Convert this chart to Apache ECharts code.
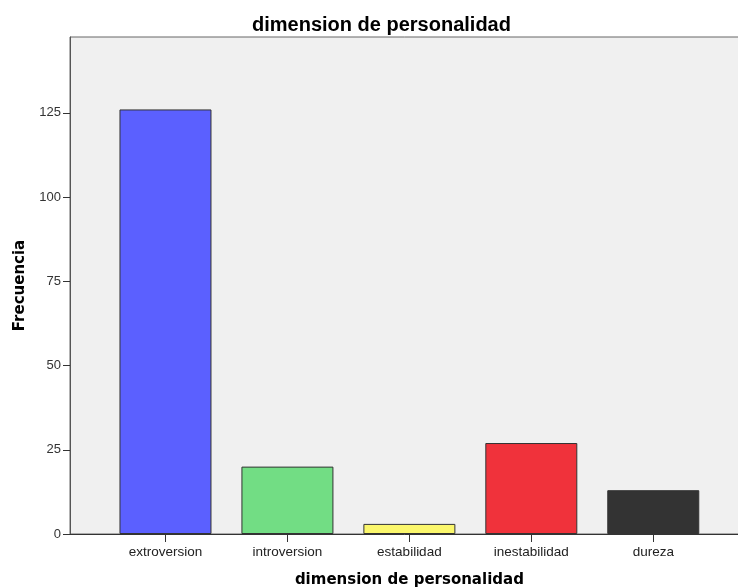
<!DOCTYPE html>
<html>
<head>
<meta charset="utf-8">
<script src="https://cdn.jsdelivr.net/npm/echarts@6/dist/echarts.min.js"></script>
<style>
html,body{margin:0;padding:0;background:#fff;}
#c{width:738px;height:588px;}
</style>
</head>
<body>
<div id="c"></div>
<script>
const categories = ['extroversion', 'introversion', 'estabilidad', 'inestabilidad', 'dureza'];
const values = [126, 20, 3, 27, 13];
const barColors = ['#5b60ff', '#72dd84', '#fbf76c', '#f0323b', '#333333'];
const yTicks = [0, 25, 50, 75, 100, 125];
const yMax = 147.5;

const chart = echarts.init(document.getElementById('c'));
chart.setOption({
  animation: false,
  title: {
    text: 'dimension de personalidad',
    left: 247,
    top: 10,
    textStyle: { fontFamily: 'Liberation Sans', fontSize: 20, fontWeight: 'bold', color: '#000' }
  },
  grid: [
    { left: 70, top: 37, width: 720, bottom: 54, outerBoundsMode: 'none', containLabel: false,
      show: true, backgroundColor: '#f0f0f0', borderColor: '#666', borderWidth: 1 },
    { left: 104.5, top: 37, width: 609.75, bottom: 54, outerBoundsMode: 'none', containLabel: false }
  ],
  xAxis: [
    { type: 'value', gridIndex: 0, min: 0, max: 1,
      axisLine: { show: true, lineStyle: { color: '#333', width: 1 } },
      axisTick: { show: false }, axisLabel: { show: false }, splitLine: { show: false } },
    { type: 'category', gridIndex: 1, data: categories,
      name: 'dimension de personalidad', nameLocation: 'middle', nameGap: 39,
      nameTextStyle: { fontFamily: 'DejaVu Sans', fontWeight: 'bold', fontSize: 15, color: '#000' },
      axisLine: { show: false },
      axisTick: { show: true, alignWithLabel: true, length: 8, lineStyle: { color: '#333' } },
      axisLabel: { margin: 11, fontFamily: 'Liberation Sans', fontSize: 13.5, color: '#222' } }
  ],
  yAxis: [
    { type: 'value', gridIndex: 0, min: 0, max: yMax,
      name: 'Frecuencia', nameLocation: 'middle', nameGap: 42, nameRotate: 90,
      nameTextStyle: { fontFamily: 'DejaVu Sans', fontWeight: 'bold', fontSize: 15, color: '#000' },
      axisLine: { show: true, lineStyle: { color: '#555', width: 1 } },
      axisTick: { show: true, length: 7, lineStyle: { color: '#333' }, customValues: yTicks },
      axisLabel: { margin: 9, fontFamily: 'Liberation Sans', fontSize: 13, color: '#333', customValues: yTicks },
      splitLine: { show: false } },
    { type: 'value', gridIndex: 1, min: 0, max: yMax, show: false, splitLine: { show: false } }
  ],
  series: [{
    type: 'bar',
    xAxisIndex: 1, yAxisIndex: 1,
    barWidth: 92,
    data: values.map((v, i) => ({ value: v, itemStyle: { color: barColors[i] } })),
    itemStyle: { borderColor: '#333', borderWidth: 1 }
  }]
});
</script>
</body>
</html>
